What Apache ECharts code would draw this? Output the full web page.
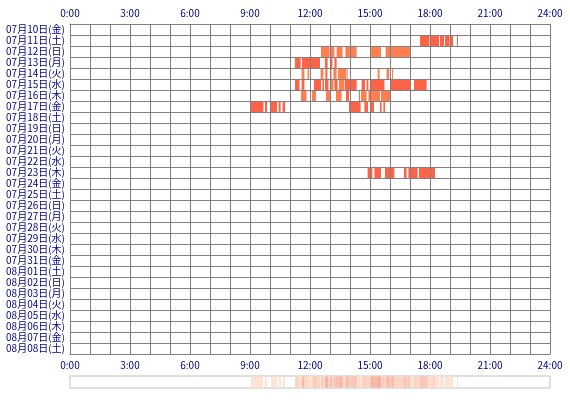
<!DOCTYPE html>
<html>
<head>
<meta charset="utf-8">
<script src="https://cdn.jsdelivr.net/npm/echarts@6/dist/echarts.min.js"></script>
<style>
html,body{margin:0;padding:0;background:#fff;}
#chart{width:570px;height:400px;}
</style>
</head>
<body>
<div id="chart"></div>
<script>
// ---- categories (rows) ----
const days = ['07月10日(金)', '07月11日(土)', '07月12日(日)', '07月13日(月)', '07月14日(火)', '07月15日(水)', '07月16日(木)', '07月17日(金)', '07月18日(土)', '07月19日(日)', '07月20日(月)', '07月21日(火)', '07月22日(水)', '07月23日(木)', '07月24日(金)', '07月25日(土)', '07月26日(日)', '07月27日(月)', '07月28日(火)', '07月29日(水)', '07月30日(木)', '07月31日(金)', '08月01日(土)', '08月02日(日)', '08月03日(月)', '08月04日(火)', '08月05日(水)', '08月06日(木)', '08月07日(金)', '08月08日(土)'];

// ---- x tick labels ----
const hourTicks = ['0:00', '3:00', '6:00', '9:00', '12:00', '15:00', '18:00', '21:00', '24:00'];

// ---- activity segments per day: [start hour, end hour, tone] (tone 1 = red, 2 = coral) ----
const seg0711 = [[17.5, 17.97, 1], [18.03, 18.45, 1], [18.5, 18.7, 1], [18.75, 18.98, 1], [19.02, 19.15, 1], [19.35, 19.38, 1]];
const seg0712 = [[12.55, 12.98, 2], [13.04, 13.22, 2], [13.33, 13.63, 2], [13.77, 14.33, 2], [15.03, 15.55, 2], [15.78, 17.0, 2]];
const seg0713 = [[11.25, 11.53, 1], [11.6, 12.5, 1], [12.75, 12.88, 1], [13.03, 13.12, 1], [13.22, 13.33, 1]];
const seg0714 = [[11.58, 11.72, 2], [11.88, 11.95, 2], [12.53, 12.67, 2], [12.77, 12.87, 1], [13.0, 13.08, 2], [13.17, 13.33, 2], [13.4, 13.8, 2], [13.83, 13.88, 1], [15.38, 15.48, 2], [15.83, 15.95, 2], [16.0, 16.05, 1], [16.1, 16.15, 2]];
const seg0715 = [[11.25, 11.47, 1], [11.58, 11.72, 1], [12.2, 12.55, 1], [12.62, 12.7, 1], [12.75, 12.92, 1], [13.02, 13.17, 2], [13.22, 13.38, 1], [13.45, 13.72, 2], [13.75, 14.0, 1], [14.05, 14.33, 1], [14.58, 14.75, 1], [14.83, 14.92, 1], [15.03, 15.72, 1], [16.03, 17.0, 1], [17.2, 17.83, 1]];
const seg0716 = [[11.55, 11.83, 2], [12.1, 12.3, 2], [12.8, 13.05, 2], [13.3, 13.58, 2], [13.8, 13.95, 1], [14.45, 14.5, 1], [14.55, 14.83, 2], [14.92, 15.5, 2], [15.55, 16.02, 2]];
const seg0717 = [[9.03, 9.67, 1], [9.75, 9.85, 1], [10.03, 10.35, 1], [10.43, 10.53, 1], [10.63, 10.75, 1], [13.95, 14.53, 1], [14.72, 14.9, 1], [15.05, 15.2, 1], [15.5, 15.58, 1], [15.67, 15.75, 1]];
const seg0723 = [[14.88, 15.12, 1], [15.22, 15.55, 1], [15.75, 16.22, 1], [16.7, 16.83, 1], [16.92, 17.38, 1], [17.45, 18.25, 1]];

const segByDay = {
  '07月11日(土)': seg0711, '07月12日(日)': seg0712, '07月13日(月)': seg0713,
  '07月14日(火)': seg0714, '07月15日(水)': seg0715, '07月16日(木)': seg0716,
  '07月17日(金)': seg0717, '07月23日(木)': seg0723
};

// build series data
const redData = [], coralData = [], allSegs = [];
Object.keys(segByDay).forEach(function (d) {
  const row = days.indexOf(d);
  segByDay[d].forEach(function (s) {
    const item = [row, s[0], s[1]];
    (s[2] === 1 ? redData : coralData).push(item);
    allSegs.push(s);
  });
});

// summary strip: count of segments covering each 3-minute bin (derived from the segments above)
const stripData = [];
for (let i = 0; i < 480; i++) {
  const t0 = i / 20, t1 = (i + 1) / 20, tc = (t0 + t1) / 2;
  let c = 0;
  allSegs.forEach(function (s) { if (s[0] <= tc && tc < s[1]) c++; });
  if (c > 0) stripData.push([t0, t1, c]);
}

function renderSeg(params, api) {
  const row = api.value(0);
  const p0 = api.coord([api.value(1), row]);
  const p1 = api.coord([api.value(2), row]);
  const h = api.size([0, 1])[1];
  return {
    type: 'rect',
    shape: { x: p0[0], y: p0[1] - h / 2, width: Math.max(p1[0] - p0[0], 1), height: h },
    style: { fill: api.visual('color') }
  };
}
function renderStrip(params, api) {
  const p0 = api.coord([api.value(0), 1]);
  const p1 = api.coord([api.value(1), 0]);
  return {
    type: 'rect',
    shape: { x: p0[0], y: p0[1] + 0.5, width: Math.max(p1[0] - p0[0], 1), height: p1[1] - p0[1] - 1 },
    style: { fill: api.visual('color') }
  };
}

const FONT = '"Noto Sans CJK JP", "DejaVu Sans", sans-serif';
const TXT = '#000080';
const GRID = '#808080';
const fmt = function (v) { return v % 3 === 0 ? hourTicks[v / 3] : ''; };

const chart = echarts.init(document.getElementById('chart'), null, { renderer: 'canvas' });
chart.setOption({
  animation: false,
  backgroundColor: '#ffffff',
  grid: [
    { left: 70, right: 20, top: 24, height: 330 },
    { left: 70, right: 20, top: 376, height: 12, show: true, borderColor: '#c0c0c0', borderWidth: 1, backgroundColor: 'transparent' }
  ],
  xAxis: [
    {
      gridIndex: 0, type: 'value', position: 'bottom', min: 0, max: 24, interval: 1, z: 10,
      axisLine: { show: true, lineStyle: { color: GRID, width: 1 } },
      axisTick: { show: false },
      splitLine: { show: true, lineStyle: { color: GRID, width: 1 } },
      axisLabel: { formatter: fmt, color: TXT, fontSize: 10, fontFamily: FONT, margin: 6, showMinLabel: true, showMaxLabel: true }
    },
    {
      gridIndex: 0, type: 'value', position: 'top', min: 0, max: 24, interval: 1, z: 10,
      axisLine: { show: true, lineStyle: { color: GRID, width: 1 } },
      axisTick: { show: false },
      splitLine: { show: false },
      axisLabel: { formatter: fmt, color: TXT, fontSize: 10, fontFamily: FONT, margin: 6, showMinLabel: true, showMaxLabel: true }
    },
    {
      gridIndex: 1, type: 'value', min: 0, max: 24, show: false
    }
  ],
  yAxis: [
    {
      gridIndex: 0, type: 'category', data: days, inverse: true, z: 10,
      axisLine: { show: true, lineStyle: { color: GRID, width: 1 } },
      axisTick: { show: false },
      splitLine: { show: true, lineStyle: { color: GRID, width: 1 } },
      axisLabel: { color: TXT, fontSize: 10, fontFamily: FONT, margin: 5, interval: 0 }
    },
    {
      gridIndex: 1, type: 'value', min: 0, max: 1, show: false
    }
  ],
  visualMap: {
    show: false, type: 'continuous', seriesIndex: 2, dimension: 2, min: 1, max: 5,
    inRange: { color: ['#FFE4D4', '#F9A898'] }
  },
  series: [
    { name: 'red', type: 'custom', xAxisIndex: 0, yAxisIndex: 0, renderItem: renderSeg, encode: { x: [1, 2], y: 0 }, data: redData, itemStyle: { color: '#FF6347' }, z: 2 },
    { name: 'coral', type: 'custom', xAxisIndex: 0, yAxisIndex: 0, renderItem: renderSeg, encode: { x: [1, 2], y: 0 }, data: coralData, itemStyle: { color: '#FF7F50' }, z: 2 },
    { name: 'total', type: 'custom', xAxisIndex: 2, yAxisIndex: 1, renderItem: renderStrip, encode: { x: [0, 1] }, data: stripData, z: 2 }
  ]
});
</script>
</body>
</html>
